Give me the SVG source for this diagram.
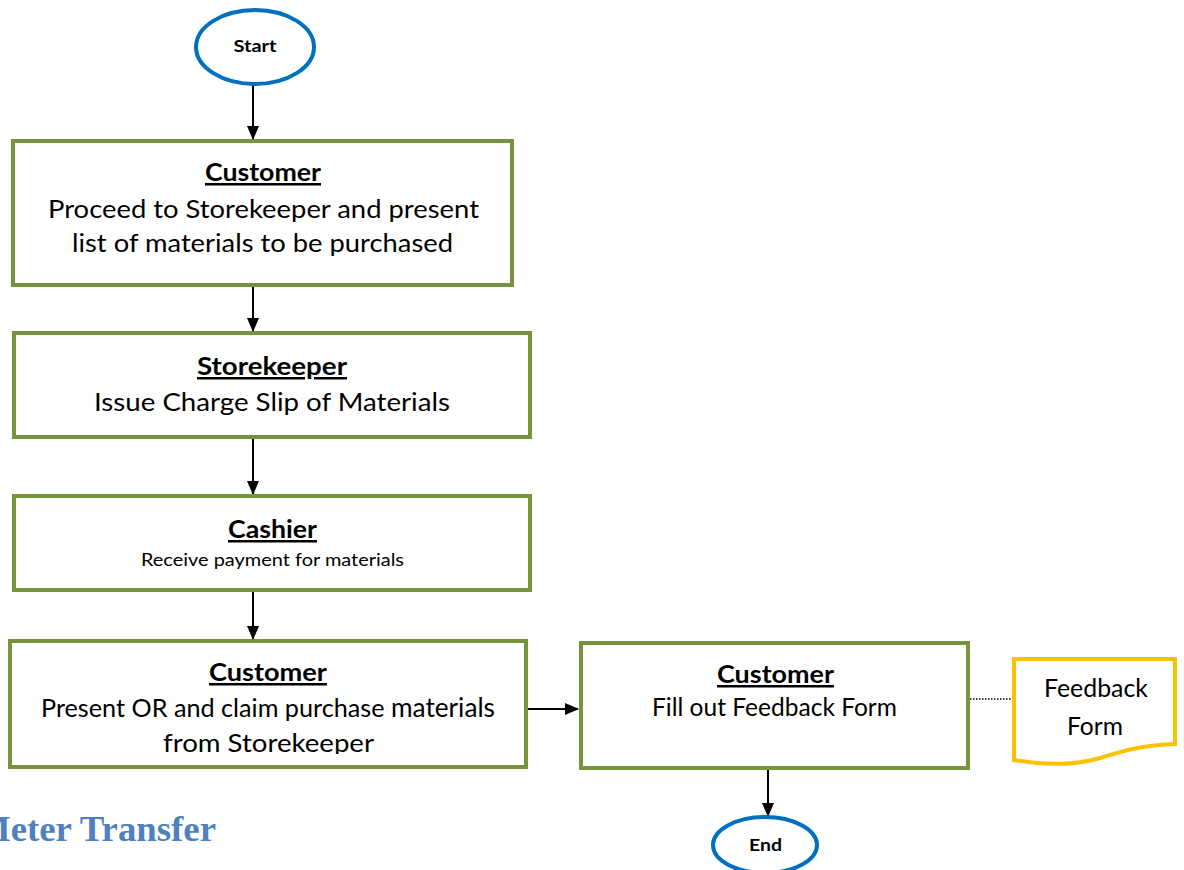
<svg xmlns="http://www.w3.org/2000/svg" width="1184" height="870" viewBox="0 0 1184 870">
<style>
.box{fill:#fff;stroke:#77933C;stroke-width:4}
.term{fill:#fff;stroke:#0070C0;stroke-width:4}
.t{font-family:Lato,"Open Sans","Liberation Sans",sans-serif;fill:#000;text-anchor:middle}
.h{font-weight:bold;font-size:25px;text-decoration:underline}
.b{font-size:25px}
.c{stroke:#000;stroke-width:2;fill:none}
</style>
<defs>
<marker id="ah" markerWidth="14" markerHeight="12" refX="13" refY="6" orient="auto" markerUnits="userSpaceOnUse" viewBox="0 0 14 12">
<path d="M0,0 L14,6 L0,12 z" fill="#000"/>
</marker>
<clipPath id="clip4"><rect x="12" y="643" width="512" height="111"/></clipPath>
</defs>
<g id="connectors">
<line class="c" x1="253" y1="85" x2="253" y2="139" marker-end="url(#ah)"/>
<line class="c" x1="253" y1="287" x2="253" y2="331" marker-end="url(#ah)"/>
<line class="c" x1="253" y1="439" x2="253" y2="494" marker-end="url(#ah)"/>
<line class="c" x1="253" y1="592" x2="253" y2="639" marker-end="url(#ah)"/>
<line class="c" x1="528" y1="709" x2="578" y2="709" marker-end="url(#ah)"/>
<line class="c" x1="768" y1="770" x2="768" y2="816" marker-end="url(#ah)"/>
<line x1="970" y1="699" x2="1012" y2="699" stroke="#000" stroke-width="1.5" stroke-dasharray="1.5,1.5"/>
</g>
<g id="start">
<ellipse class="term" cx="255" cy="47" rx="59" ry="37"/>
<text class="t" x="255" y="52" font-size="17" font-weight="bold" textLength="43" lengthAdjust="spacingAndGlyphs">Start</text>
</g>
<g id="n1">
<rect class="box" x="13" y="141" width="499" height="144"/>
<text class="t h" x="263" y="181" textLength="116" lengthAdjust="spacingAndGlyphs">Customer</text>
<text class="t b" x="263.5" y="218" textLength="431" lengthAdjust="spacingAndGlyphs">Proceed to Storekeeper and present</text>
<text class="t b" x="262.5" y="252" textLength="381" lengthAdjust="spacingAndGlyphs">list of materials to be purchased</text>
</g>
<g id="n2">
<rect class="box" x="14" y="333" width="516" height="104"/>
<text class="t h" x="272" y="375" textLength="150" lengthAdjust="spacingAndGlyphs">Storekeeper</text>
<text class="t b" x="272" y="411" textLength="356" lengthAdjust="spacingAndGlyphs">Issue Charge Slip  of Materials</text>
</g>
<g id="n3">
<rect class="box" x="14" y="496" width="516" height="94"/>
<text class="t h" x="272.5" y="538" textLength="89" lengthAdjust="spacingAndGlyphs">Cashier</text>
<text class="t" x="272.5" y="566" font-size="18" textLength="263" lengthAdjust="spacingAndGlyphs">Receive payment for materials</text>
</g>
<g id="n4">
<rect class="box" x="10" y="641" width="516" height="126"/>
<text class="t h" x="268" y="681" textLength="118" lengthAdjust="spacingAndGlyphs">Customer</text>
<g clip-path="url(#clip4)">
<text class="t b" x="268" y="717" textLength="454" lengthAdjust="spacingAndGlyphs">Present OR and claim purchase <tspan font-size="26">materials</tspan></text>
<text class="t b" x="268.5" y="752" textLength="211" lengthAdjust="spacingAndGlyphs">from Storekeeper</text>
</g>
</g>
<g id="n5">
<rect class="box" x="581" y="643" width="387" height="125"/>
<text class="t h" x="775.5" y="683" textLength="117" lengthAdjust="spacingAndGlyphs">Customer</text>
<text class="t b" x="774.5" y="716" textLength="245" lengthAdjust="spacingAndGlyphs">Fill out Feedback Form</text>
</g>
<g id="doc">
<path d="M1014,659 L1175,659 L1175,744 C1140,745 1120,752 1100,758 C1080,764 1055,767 1014,760 Z" fill="#fff" stroke="#FFC000" stroke-width="4"/>
<text class="t b" x="1096" y="697" textLength="104" lengthAdjust="spacingAndGlyphs">Feedback</text>
<text class="t b" x="1095" y="735" textLength="56" lengthAdjust="spacingAndGlyphs">Form</text>
</g>
<g id="end">
<ellipse class="term" cx="765" cy="845" rx="52" ry="28"/>
<text class="t" x="765.5" y="851" font-size="17" font-weight="bold" textLength="33" lengthAdjust="spacingAndGlyphs">End</text>
</g>
<text x="-24" y="841" font-family="'Liberation Serif',serif" font-weight="bold" font-size="35" fill="#4F81BD" textLength="240" lengthAdjust="spacingAndGlyphs">Meter Transfer</text>
</svg>
